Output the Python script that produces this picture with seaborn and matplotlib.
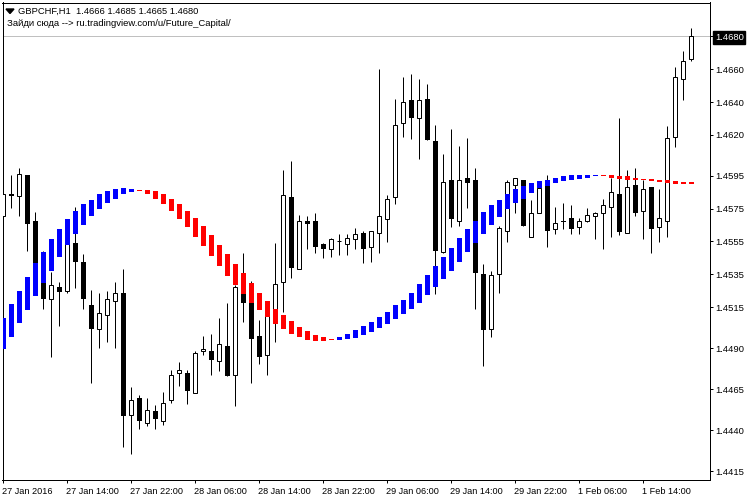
#!/usr/bin/env python3
"""GBPCHF H1 candles with the smoothed blue/red trend band"""

import numpy as np
import pandas as pd
import matplotlib
matplotlib.use('Agg')
import matplotlib.pyplot as plt
from matplotlib.transforms import ScaledTranslation
import seaborn as sns

# candle prices, one value per hourly bar
opens = [1.45703, 1.45837, 1.45825, 1.45953, 1.45672, 1.45465, 1.45202, 1.45270, 1.45251, 1.45538,
         1.45422, 1.45160, 1.45014, 1.45099, 1.45190, 1.45239, 1.44495, 1.44593, 1.44446, 1.44514,
         1.44453, 1.44581, 1.44751, 1.44751, 1.44624, 1.44880, 1.44880, 1.44819, 1.44910, 1.44733,
         1.45270, 1.45251, 1.44971, 1.44855, 1.45069, 1.45300, 1.45819, 1.45380, 1.45672, 1.45672,
         1.45532, 1.45502, 1.45550, 1.45532, 1.45563, 1.45599, 1.45514, 1.45599, 1.45685, 1.45819,
         1.46270, 1.46410, 1.46300, 1.46416, 1.46160, 1.45483, 1.45922, 1.45672, 1.45940, 1.45922,
         1.45349, 1.45014, 1.45349, 1.45611, 1.45892, 1.45928, 1.45575, 1.45721, 1.45898, 1.45624,
         1.45678, 1.45691, 1.45636, 1.45672, 1.45703, 1.45721, 1.45758, 1.45837, 1.45599, 1.45892,
         1.45739, 1.45880, 1.45636, 1.45678, 1.46185, 1.46538, 1.46660]
highs = [1.45892, 1.45953, 1.45996, 1.45953, 1.45727, 1.45495, 1.45361, 1.45300, 1.45569, 1.45758,
         1.45471, 1.45257, 1.45239, 1.45251, 1.45300, 1.45380, 1.44660, 1.44611, 1.44593, 1.44550,
         1.44630, 1.44764, 1.44813, 1.44764, 1.44880, 1.44971, 1.44989, 1.45081, 1.45178, 1.45282,
         1.45477, 1.45312, 1.45069, 1.45190, 1.45538, 1.45984, 1.46038, 1.45709, 1.45703, 1.45721,
         1.45538, 1.45569, 1.45593, 1.45593, 1.45630, 1.45611, 1.45617, 1.46599, 1.45831, 1.46416,
         1.46550, 1.46569, 1.46538, 1.46508, 1.46258, 1.46081, 1.46239, 1.46130, 1.46179, 1.45996,
         1.45410, 1.45373, 1.45642, 1.45922, 1.45940, 1.45928, 1.45800, 1.45886, 1.45953, 1.45758,
         1.45782, 1.45770, 1.45691, 1.45752, 1.45727, 1.45812, 1.45940, 1.46306, 1.45984, 1.45996,
         1.45928, 1.45880, 1.45868, 1.46252, 1.46611, 1.46709, 1.46850]
lows = [1.45691, 1.45752, 1.45703, 1.45495, 1.45361, 1.45141, 1.44843, 1.45032, 1.45233, 1.45264,
        1.45141, 1.44685, 1.44898, 1.44935, 1.44898, 1.44294, 1.44257, 1.44404, 1.44428, 1.44404,
        1.44434, 1.44568, 1.44666, 1.44562, 1.44624, 1.44855, 1.44733, 1.44758, 1.44727, 1.44544,
        1.45057, 1.44685, 1.44806, 1.44733, 1.44935, 1.45123, 1.45325, 1.45380, 1.45502, 1.45477,
        1.45447, 1.45453, 1.45465, 1.45465, 1.45502, 1.45416, 1.45422, 1.45477, 1.45544, 1.45776,
        1.46185, 1.46172, 1.46056, 1.46166, 1.45227, 1.45477, 1.45636, 1.45642, 1.45752, 1.45141,
        1.44788, 1.44965, 1.45233, 1.45544, 1.45721, 1.45642, 1.45575, 1.45721, 1.45514, 1.45593,
        1.45624, 1.45593, 1.45593, 1.45666, 1.45563, 1.45502, 1.45575, 1.45587, 1.45599, 1.45703,
        1.45563, 1.45477, 1.45544, 1.45575, 1.46124, 1.46410, 1.46650]
closes = [1.45837, 1.45825, 1.45959, 1.45654, 1.45373, 1.45202, 1.45282, 1.45245, 1.45556, 1.45422,
          1.45202, 1.45014, 1.45111, 1.45202, 1.45233, 1.44483, 1.44581, 1.44453, 1.44520, 1.44465,
          1.44568, 1.44733, 1.44764, 1.44636, 1.44873, 1.44892, 1.44825, 1.44922, 1.44727, 1.45270,
          1.45172, 1.44953, 1.44843, 1.45160, 1.45288, 1.45831, 1.45386, 1.45678, 1.45654, 1.45514,
          1.45502, 1.45563, 1.45550, 1.45569, 1.45593, 1.45502, 1.45611, 1.45703, 1.45812, 1.46258,
          1.46398, 1.46300, 1.46410, 1.46166, 1.45495, 1.45910, 1.45685, 1.45928, 1.45904, 1.45355,
          1.45008, 1.45343, 1.45630, 1.45910, 1.45940, 1.45642, 1.45721, 1.45874, 1.45611, 1.45660,
          1.45666, 1.45624, 1.45672, 1.45709, 1.45721, 1.45770, 1.45849, 1.45605, 1.45880, 1.45721,
          1.45868, 1.45624, 1.45691, 1.46179, 1.46550, 1.46648, 1.46800]

# trend band, rising = blue and falling = red
band_open = [1.44892, 1.44965, 1.45050, 1.45130, 1.45215, 1.45294, 1.45373, 1.45453, 1.45526, 1.45593,
             1.45648, 1.45703, 1.45746, 1.45782, 1.45812, 1.45837, 1.45849, 1.45861, 1.45861, 1.45855,
             1.45837, 1.45812, 1.45776, 1.45739, 1.45691, 1.45642, 1.45587, 1.45526, 1.45471, 1.45410,
             1.45355, 1.45294, 1.45239, 1.45190, 1.45141, 1.45099, 1.45063, 1.45026, 1.45002, 1.44977,
             1.44965, 1.44953, 1.44947, 1.44953, 1.44959, 1.44977, 1.44996, 1.45020, 1.45044, 1.45075,
             1.45105, 1.45141, 1.45178, 1.45221, 1.45270, 1.45319, 1.45373, 1.45428, 1.45483, 1.45538,
             1.45593, 1.45648, 1.45697, 1.45746, 1.45782, 1.45812, 1.45843, 1.45874, 1.45886, 1.45904,
             1.45916, 1.45928, 1.45934, 1.45940, 1.45947, 1.45953, 1.45953, 1.45947, 1.45947, 1.45940,
             1.45934, 1.45934, 1.45928, 1.45922, 1.45916, 1.45910, 1.45910]
band_close = [1.45081, 1.45166, 1.45251, 1.45331, 1.45416, 1.45489, 1.45563, 1.45624, 1.45685, 1.45733,
              1.45776, 1.45806, 1.45837, 1.45855, 1.45868, 1.45874, 1.45868, 1.45855, 1.45837, 1.45812,
              1.45776, 1.45733, 1.45685, 1.45636, 1.45575, 1.45520, 1.45459, 1.45398, 1.45337, 1.45282,
              1.45227, 1.45178, 1.45130, 1.45087, 1.45044, 1.45014, 1.44983, 1.44965, 1.44947, 1.44941,
              1.44941, 1.44947, 1.44965, 1.44983, 1.45008, 1.45032, 1.45057, 1.45087, 1.45123, 1.45160,
              1.45196, 1.45239, 1.45288, 1.45343, 1.45398, 1.45453, 1.45508, 1.45569, 1.45624, 1.45678,
              1.45727, 1.45770, 1.45806, 1.45837, 1.45868, 1.45886, 1.45904, 1.45916, 1.45928, 1.45940,
              1.45947, 1.45953, 1.45953, 1.45953, 1.45953, 1.45947, 1.45940, 1.45934, 1.45928, 1.45928,
              1.45922, 1.45916, 1.45910, 1.45904, 1.45898, 1.45898, 1.45898]

time_labels = ['27 Jan 2016', '27 Jan 14:00', '27 Jan 22:00', '28 Jan 06:00', '28 Jan 14:00', '28 Jan 22:00',
               '29 Jan 06:00', '29 Jan 14:00', '29 Jan 22:00', '1 Feb 06:00', '1 Feb 14:00']
price_ticks = [1.4680, 1.4660, 1.4640, 1.4620, 1.4595, 1.4575, 1.4555, 1.4535, 1.4515, 1.4490, 1.4465, 1.4440, 1.4415]
last_price = 1.4680

W, H = 750, 500
PX = 72 / 100  # one pixel in points

sns.set_style('white')
plt.rcParams['font.family'] = ['Liberation Sans', 'DejaVu Sans']

df = pd.DataFrame({'bar': np.arange(len(opens)), 'open': opens, 'high': highs, 'low': lows, 'close': closes,
                   'band_open': band_open, 'band_close': band_close})

fig = plt.figure(figsize=(W / 100, H / 100), dpi=100)
ax = fig.add_axes([2.5 / W, 1 - 479.5 / H, 708 / W, 477 / H])

# wicks
wicks = df.melt(id_vars='bar', value_vars=['low', 'high'], value_name='price')
sns.lineplot(data=wicks, x='bar', y='price', units='bar', estimator=None, color='black',
             linewidth=PX, solid_capstyle='butt', legend=False, ax=ax, zorder=2)


def draw_bars(data, low, high, color, width, edge=None):
    # floating bars, one barplot call for each colour
    bottom = data[[low, high]].min(axis=1).values
    height = (data[low] - data[high]).abs().values
    sns.barplot(x=data['bar'].values, y=height, bottom=bottom, native_scale=True, width=width,
                color=color, saturation=1, errorbar=None, edgecolor=edge or color,
                linewidth=PX if edge else 0, ax=ax, zorder=3 if edge or color == 'black' else 4)


rising = df['close'] >= df['open']
draw_bars(df[~rising], 'open', 'close', 'black', 5 / 8)
draw_bars(df[rising], 'open', 'close', 'white', 4 / 8, edge='black')

band_up = df['band_close'] > df['band_open']
draw_bars(df[band_up], 'band_open', 'band_close', '#0000ff', 5 / 8)
draw_bars(df[~band_up], 'band_open', 'band_close', '#ff0000', 5 / 8)

ax.axhline(last_price, color='#c0c0c0', linewidth=PX, zorder=1)

# small shift so white and black bodies snap onto the same pixels
ax.set_xlim(-0.98 / 8, 707.02 / 8)
ax.set_ylim(last_price - 443 / 16400, last_price + 34 / 16400)
ax.set(xlabel='', ylabel='')

ax.set_xticks(np.arange(len(time_labels)) * 8)
ax.set_xticklabels(time_labels, ha='left', fontsize=6.6, color='black')
ax.yaxis.tick_right()
ax.set_yticks(price_ticks)
ax.set_yticklabels([f'{p:.4f}' for p in price_ticks], fontsize=6.8, color='black')
ax.tick_params(axis='both', length=3 * PX, width=PX, color='black', pad=1, bottom=True, right=True)
ax.tick_params(axis='x', pad=3)

# x labels start just left of their tick
shift = ScaledTranslation(-1.5 / 100, 0, fig.dpi_scale_trans)
for label in ax.get_xticklabels():
    label.set_transform(label.get_transform() + shift)

# price marker on the scale
marker = ax.get_yticklabels()[0]
marker.set_color('white')
marker.set_bbox(dict(facecolor='black', edgecolor='black', pad=1.2))

for spine in ax.spines.values():
    spine.set_visible(True)
    spine.set_color('black')
    spine.set_linewidth(PX)

# header in the chart corner
ax.fill([3.5 / 708, 11.5 / 708, 7.5 / 708], [1 - 6.5 / 477, 1 - 6.5 / 477, 1 - 11 / 477], transform=ax.transAxes,
        color='black', zorder=5)
ax.text(15.5 / 708, 1 - 8.5 / 477, 'GBPCHF,H1  1.4666 1.4685 1.4665 1.4680', transform=ax.transAxes,
        fontsize=6.75, va='center', ha='left', color='black')
ax.text(4.5 / 708, 1 - 21.5 / 477, 'Зайди сюда --> ru.tradingview.com/u/Future_Capital/', transform=ax.transAxes,
        fontsize=6.8, va='center', ha='left', color='black')

fig.savefig('out.png', dpi=100)
